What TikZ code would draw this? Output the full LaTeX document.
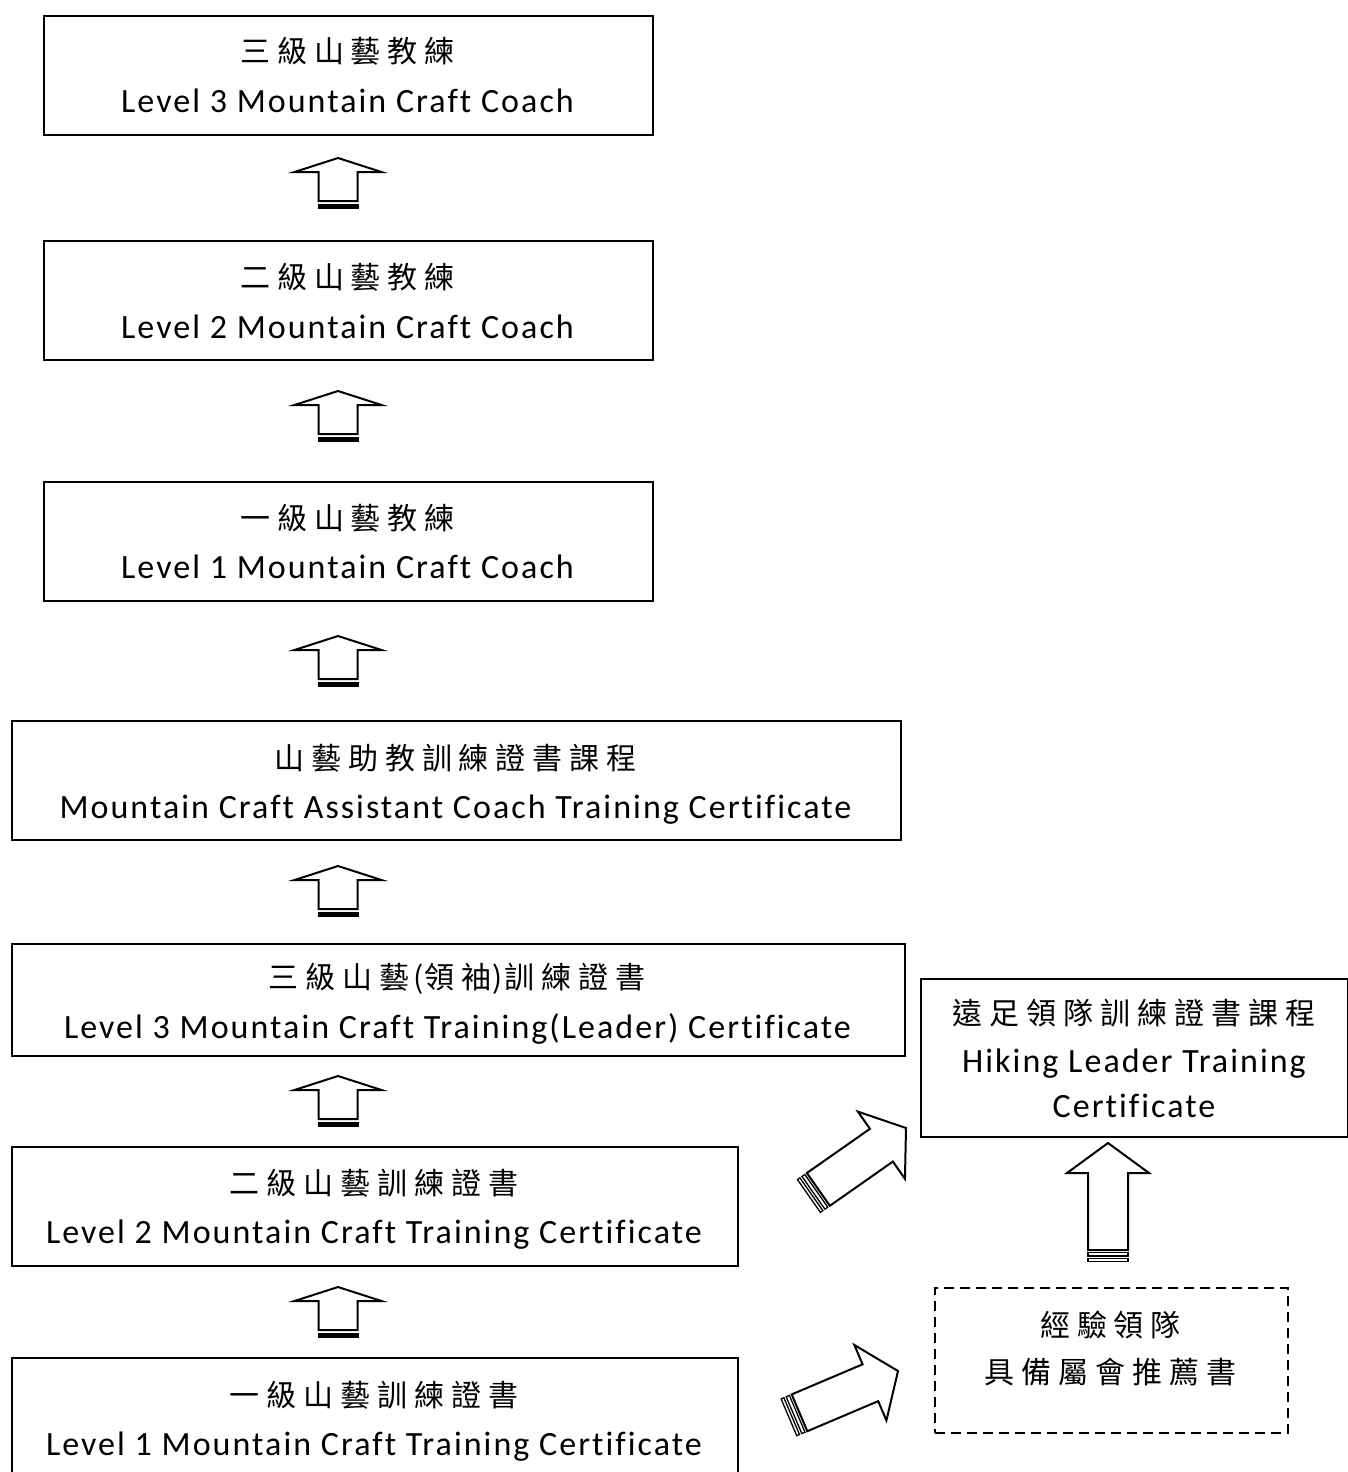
\documentclass[tikz,border=0pt]{standalone}
\usepackage{fontspec}
\setmainfont{Carlito}[LetterSpace=6,Ligatures=NoCommon]
\newfontfamily\cjk{Noto Sans CJK TC}[LetterSpace=23]
\newfontfamily\cjkn{Noto Sans CJK TC}
\newcommand\gp[1]{\hspace{#1pt}}
\begin{document}
\begin{tikzpicture}[x=1pt,y=-1pt,
  box/.style={draw, line width=2pt, inner sep=0pt, anchor=north west},
  dbox/.style={box, dash pattern=on 10pt off 6pt},
  cn/.style={font=\cjk\fontsize{30}{36}\selectfont, inner sep=0pt, anchor=base},
  cnn/.style={font=\cjkn\fontsize{30}{36}\selectfont, inner sep=0pt, anchor=base},
  en/.style={font=\fontsize{34}{40}\selectfont, inner sep=0pt, anchor=base},
  arrline/.style={line width=2pt, line join=miter, fill=white},
  smallarr/.pic={
    \draw[arrline] (0,0) -- (43.5,14) -- (19.5,14) -- (19.5,43) -- (-19.5,43)
       -- (-19.5,14) -- (-43.5,14) -- cycle;
    \fill (-20.5,45.5) rectangle (20.5,51);
  },
  bigarr/.pic={
    \draw[arrline] (0,0) -- (41,30) -- (20,30) -- (20,107) -- (-20,107)
       -- (-20,30) -- (-41,30) -- cycle;
    \draw[line width=1.3pt] (-20,109.5) rectangle (20,113);
    \draw[line width=1.3pt] (-20,115.5) rectangle (20,118.5);
  }
]
\useasboundingbox (0,0) rectangle (1348,1472);

% boxes
\node[box, minimum width=609pt, minimum height=119pt] (b1) at (43,15) {};
\node[box, minimum width=609pt, minimum height=119pt] (b2) at (43,240) {};
\node[box, minimum width=609pt, minimum height=119pt] (b3) at (43,481) {};
\node[box, minimum width=889pt, minimum height=119pt] (b4) at (11,720) {};
\node[box, minimum width=893pt, minimum height=112pt] (b5) at (11,943) {};
\node[box, minimum width=726pt, minimum height=119pt] (b6) at (11,1146) {};
\node[box, minimum width=726pt, minimum height=120pt] (b7) at (11,1357) {};
\node[box, minimum width=427pt, minimum height=158pt] (h) at (920,978) {};
\node[dbox, minimum width=353pt, minimum height=145pt] (d) at (934,1287) {};

% texts
\node[cn] (b1c) at (347.5,63) {三級山藝教練};
\node[en] (b1e) at (347.5,112) {Level 3 Mountain Craft Coach};
\node[cn] (b2c) at (347.5,288) {二級山藝教練};
\node[en] (b2e) at (347.5,338) {Level 2 Mountain Craft Coach};
\node[cn] (b3c) at (347.5,529) {一級山藝教練};
\node[en] (b3e) at (347.5,578) {Level 1 Mountain Craft Coach};
\node[cn] (b4c) at (455.5,769) {山藝助教訓練證書課程};
\node[en] (b4e) at (455.5,818) {Mountain Craft Assistant Coach Training Certificate};
\node[cnn] (b5c) at (457,988) {三\gp7級\gp7山\gp7藝\gp4(\gp1領\gp7袖\gp1)\gp2訓\gp7練\gp7證\gp7書};
\node[en] (b5e) at (457.5,1038) {Level 3 Mountain Craft Training(Leader) Certificate};
\node[cn] (b6c) at (374,1194) {二級山藝訓練證書};
\node[en] (b6e) at (374,1243) {Level 2 Mountain Craft Training Certificate};
\node[cn] (b7c) at (374,1406) {一級山藝訓練證書};
\node[en] (b7e) at (374,1455) {Level 1 Mountain Craft Training Certificate};
\node[cn] (hc) at (1134,1024) {遠足領隊訓練證書課程};
\node[en] (he1) at (1134,1072) {Hiking Leader Training};
\node[en] (he2) at (1134,1117) {Certificate};
\node[cn] (dc1) at (1110.5,1336) {經驗領隊};
\node[cn] (dc2) at (1110.5,1383) {具備屬會推薦書};

% arrows
\pic at (338,158) {smallarr};
\pic at (338,391) {smallarr};
\pic at (338,636) {smallarr};
\pic at (338,866) {smallarr};
\pic at (338,1076) {smallarr};
\pic at (338,1287) {smallarr};
\pic at (1108,1143) {bigarr};
\pic[rotate=-55] at (906,1128) {bigarr};
\pic[rotate=-67] at (898,1371) {bigarr};
\end{tikzpicture}
\end{document}
